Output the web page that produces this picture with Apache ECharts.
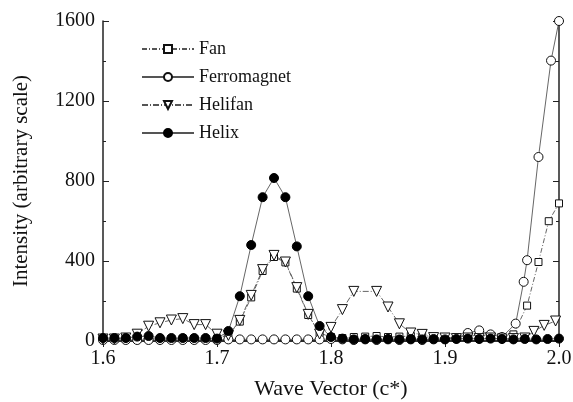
<!DOCTYPE html>
<html>
<head>
<meta charset="utf-8">
<script src="https://cdn.jsdelivr.net/npm/echarts@6/dist/echarts.min.js"></script>
<style>
html,body{margin:0;padding:0;background:#fff;}
#chart{width:573px;height:402px;}
</style>
</head>
<body>
<div id="chart"></div>
<script>
// ---- Data ----
const fanX = [1.60,1.61,1.62,1.63,1.64,1.65,1.66,1.67,1.68,1.69,1.70,1.71,1.72,1.73,1.74,1.75,1.76,1.77,1.78,1.79,1.80,1.81,1.82,1.83,1.84,1.85,1.86,1.87,1.88,1.89,1.90,1.91,1.92,1.93,1.94,1.95,1.96,1.972,1.982,1.991,2.00];
const fanY = [10,10,12,10,12,10,10,12,10,10,12,30,97,218,350,420,393,262,130,40,20,15,20,22,25,20,22,25,20,18,15,20,25,28,25,20,33,177,395,599,688];

const ferroX = [1.60,1.61,1.62,1.63,1.64,1.65,1.66,1.67,1.68,1.69,1.70,1.71,1.72,1.73,1.74,1.75,1.76,1.77,1.78,1.79,1.80,1.81,1.82,1.83,1.84,1.85,1.86,1.87,1.88,1.89,1.90,1.91,1.92,1.93,1.94,1.95,1.962,1.969,1.972,1.982,1.993,2.00];
const ferroY = [5,5,5,5,5,5,5,5,5,5,5,8,8,8,8,8,8,8,8,8,10,8,5,8,5,8,5,8,5,8,10,15,40,53,33,20,87,296,404,920,1402,1600];

const helifanX = [1.60,1.61,1.62,1.63,1.64,1.65,1.66,1.67,1.68,1.69,1.70,1.71,1.72,1.73,1.74,1.75,1.76,1.77,1.78,1.79,1.80,1.81,1.82,1.84,1.85,1.86,1.87,1.88,1.89,1.90,1.91,1.92,1.93,1.94,1.95,1.96,1.97,1.978,1.987,1.997];
const helifanY = [10,10,15,34,74,91,105,112,82,82,34,28,103,228,357,428,395,267,133,35,68,157,248,248,170,86,40,33,17,15,12,15,12,15,10,12,15,48,78,100];

const helixX = [1.60,1.61,1.62,1.63,1.64,1.65,1.66,1.67,1.68,1.69,1.70,1.71,1.72,1.73,1.74,1.75,1.76,1.77,1.78,1.79,1.80,1.81,1.82,1.83,1.84,1.85,1.86,1.87,1.88,1.89,1.90,1.91,1.92,1.93,1.94,1.95,1.96,1.97,1.98,1.99,2.00];
const helixY = [15,15,15,22,25,15,15,15,15,15,12,50,224,480,719,815,719,473,224,75,20,12,8,10,8,10,8,10,8,10,8,10,12,10,12,10,8,10,8,10,12];

const xTicks = [1.6, 1.7, 1.8, 1.9, 2.0];
const yTicks = [0, 400, 800, 1200, 1600];

function pairs(xs, ys){ return xs.map((x,i)=>[x, ys[i]]); }

const FONT = '"Liberation Serif","DejaVu Serif",serif';
const axisCol = '#222';
const lineCol = '#555';

const chart = echarts.init(document.getElementById('chart'), null, {renderer:'canvas'});

const commonAxis = {
  axisLine:{show:true, lineStyle:{color:axisCol, width:1.5}},
  splitLine:{show:false}
};

const option = {
  animation:false,
  backgroundColor:'#fff',
  grid:{left:103, right:14, top:21, bottom:61, containLabel:false, outerBoundsMode:'none'},
  legend:{
    orient:'vertical', left:136, top:35, itemWidth:52, itemHeight:10, itemGap:10,
    textStyle:{fontFamily:FONT, fontSize:18, color:'#111'},
    data:['Fan','Ferromagnet','Helifan','Helix']
  },
  xAxis:[
    Object.assign({}, commonAxis, {
      type:'value', min:xTicks[0], max:xTicks[xTicks.length-1], interval:0.1,
      name:'Wave Vector (c*)', nameLocation:'middle', nameGap:37,
      nameTextStyle:{fontFamily:FONT, fontSize:22, color:'#111'},
      axisTick:{show:true, inside:true, length:6, lineStyle:{color:axisCol}},
      minorTick:{show:true, splitNumber:2, length:3, lineStyle:{color:axisCol}},
      axisLabel:{fontFamily:FONT, fontSize:20, color:'#111', margin:8, formatter:v=>v.toFixed(1)}
    }),
    Object.assign({}, commonAxis, {
      type:'value', position:'top', min:xTicks[0], max:xTicks[xTicks.length-1], interval:0.1,
      axisTick:{show:true, inside:true, length:6, lineStyle:{color:axisCol}},
      minorTick:{show:true, splitNumber:2, length:3, lineStyle:{color:axisCol}},
      axisLabel:{show:false}
    })
  ],
  yAxis:[
    Object.assign({}, commonAxis, {
      type:'value', min:yTicks[0], max:yTicks[yTicks.length-1], interval:400,
      name:'Intensity (arbitrary scale)', nameLocation:'middle', nameGap:71,
      nameTextStyle:{fontFamily:FONT, fontSize:21, color:'#111'},
      axisTick:{show:true, inside:true, length:6, lineStyle:{color:axisCol}},
      minorTick:{show:true, splitNumber:2, length:3, lineStyle:{color:axisCol}},
      axisLabel:{fontFamily:FONT, fontSize:20, color:'#111', margin:8, formatter:v=>String(v)}
    }),
    Object.assign({}, commonAxis, {
      type:'value', position:'right', min:yTicks[0], max:yTicks[yTicks.length-1], interval:400,
      axisTick:{show:true, inside:true, length:6, lineStyle:{color:axisCol}},
      minorTick:{show:true, splitNumber:2, length:3, lineStyle:{color:axisCol}},
      axisLabel:{show:false}
    })
  ],
  series:[
    {
      name:'Fan', type:'line', data:pairs(fanX, fanY), xAxisIndex:0, yAxisIndex:0,
      symbol:'rect', symbolSize:7,
      lineStyle:{color:lineCol, width:0.9, type:[5,2,1,2]},
      itemStyle:{color:'#fff', borderColor:'#111', borderWidth:1}
    },
    {
      name:'Ferromagnet', type:'line', data:pairs(ferroX, ferroY), xAxisIndex:0, yAxisIndex:0,
      symbol:'circle', symbolSize:9,
      lineStyle:{color:lineCol, width:0.9, type:'solid'},
      itemStyle:{color:'#fff', borderColor:'#111', borderWidth:1}
    },
    {
      name:'Helifan', type:'line', data:pairs(helifanX, helifanY), xAxisIndex:0, yAxisIndex:0,
      symbol:'triangle', symbolRotate:180, symbolSize:10,
      lineStyle:{color:lineCol, width:0.9, type:[6,2,1,2]},
      itemStyle:{color:'#fff', borderColor:'#111', borderWidth:1}
    },
    {
      name:'Helix', type:'line', data:pairs(helixX, helixY), xAxisIndex:0, yAxisIndex:0,
      symbol:'circle', symbolSize:9,
      lineStyle:{color:lineCol, width:0.9, type:'solid'},
      itemStyle:{color:'#000', borderColor:'#000', borderWidth:1}
    }
  ]
};
chart.setOption(option);
</script>
</body>
</html>
